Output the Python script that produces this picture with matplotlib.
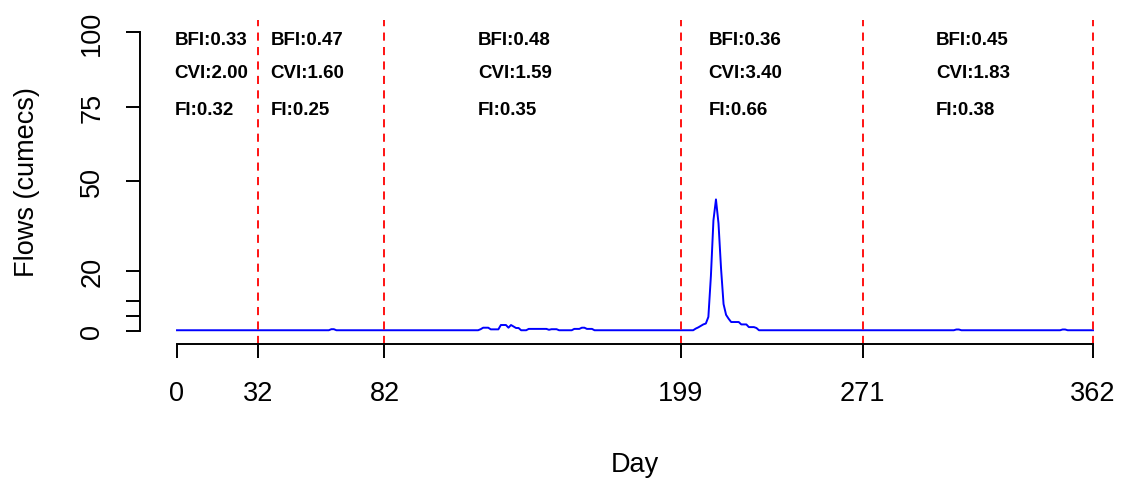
import matplotlib
matplotlib.use("Agg")
import matplotlib.pyplot as plt
import numpy as np

# daily flows (cumecs): baseline plus the days that rise above it
n_days = 363
base_flow = 0.25
event_days = [61, 62,
              120, 121, 122, 123, 124, 125, 126, 127, 128, 129, 130, 131, 132, 133,
              134, 135, 136, 137, 138, 139, 140, 141, 142, 143, 144, 145, 146, 147,
              148, 149, 150, 151, 157, 158, 159, 160, 161, 162, 163, 164,
              205, 206, 207, 208, 209, 210, 211, 212, 213, 214, 215, 216, 217, 218,
              219, 220, 221, 222, 223, 224, 225, 226, 227, 228, 229,
              308, 309, 350, 351]
event_flows = [0.6, 0.6,
               0.6, 1.1, 1.1, 1.1, 0.55, 0.55, 0.55, 0.55, 2.0, 2.0, 2.0, 1.1, 2.0, 1.5,
               1.0, 1.0, 0.25, 0.25, 0.25, 0.7, 0.7, 0.7, 0.7, 0.7, 0.7, 0.7, 0.7, 0.4,
               0.6, 0.6, 0.6, 0.25, 0.7, 0.7, 0.7, 1.1, 1.1, 0.7, 0.7, 0.7,
               0.8, 1.2, 1.7, 2.2, 2.5, 4.7, 18.4, 37.0, 44.0, 36.0, 21.0, 9.0, 5.4, 4.1,
               3.0, 3.0, 3.0, 3.0, 2.2, 2.2, 2.2, 1.3, 1.3, 1.3, 1.0,
               0.5, 0.5, 0.5, 0.5]

breaks = [32, 82, 199, 271, 362]
x_ticks = [0, 32, 82, 199, 271, 362]
y_ticks = [0, 5, 10, 20, 50, 75, 100]
y_tick_labels = ['0', '', '', '20', '50', '75', '100']

seg_x = [-1, 37, 119, 210, 300]
bfi = ['0.33', '0.47', '0.48', '0.36', '0.45']
cvi = ['2.00', '1.60', '1.59', '3.40', '1.83']
fi = ['0.32', '0.25', '0.35', '0.66', '0.38']

flows = np.full(n_days, base_flow)
flows[event_days] = event_flows
days = np.arange(n_days)

plt.rcParams['font.family'] = ['Liberation Sans', 'DejaVu Sans']

fig = plt.figure(figsize=(11.21, 4.81), dpi=100)
ax = fig.add_axes([140 / 1121, 136 / 481, 981 / 1121, 324 / 481])

ax.plot(days, flows, color='#0000FF', lw=1.4)
for b in breaks:
    ax.axvline(b, color='#FF0000', lw=1.3, linestyle=(0, (4.5, 3.5)))

for x, b, c, f in zip(seg_x, bfi, cvi, fi):
    ax.text(x, 97.6, f'BFI:{b}', fontsize=13.5, fontweight='bold', ha='left', va='center')
    ax.text(x, 86.5, f'CVI:{c}', fontsize=13.5, fontweight='bold', ha='left', va='center')
    ax.text(x, 74.2, f'FI:{f}', fontsize=13.5, fontweight='bold', ha='left', va='center')

ax.set_xlim(-14.62, 373.07)
ax.set_ylim(-4.35, 104.0)

for s in ['top', 'right']:
    ax.spines[s].set_visible(False)
ax.spines['left'].set_bounds(0, 100)
ax.spines['bottom'].set_bounds(0, 362)
ax.spines['left'].set_linewidth(1.4)
ax.spines['bottom'].set_linewidth(1.4)

ax.set_xticks(x_ticks)
ax.set_xticklabels([str(t) for t in x_ticks])
ax.set_yticks(y_ticks)
ax.set_yticklabels(y_tick_labels)
ax.tick_params(axis='x', direction='out', length=10, width=1.4, pad=16, labelsize=19.5)
ax.tick_params(axis='y', direction='out', length=10, width=1.4, pad=15, labelsize=19.5)
for lab in ax.get_yticklabels():
    lab.set_rotation(90)
    lab.set_va('center')

fig.text(27 / 1121, 1 - 182 / 481, 'Flows (cumecs)', rotation=90, ha='center', va='center', fontsize=19.5)
fig.text(635 / 1121, 1 - 465 / 481, 'Day', ha='center', va='center', fontsize=19.5)

fig.savefig('out.png', dpi=100)
